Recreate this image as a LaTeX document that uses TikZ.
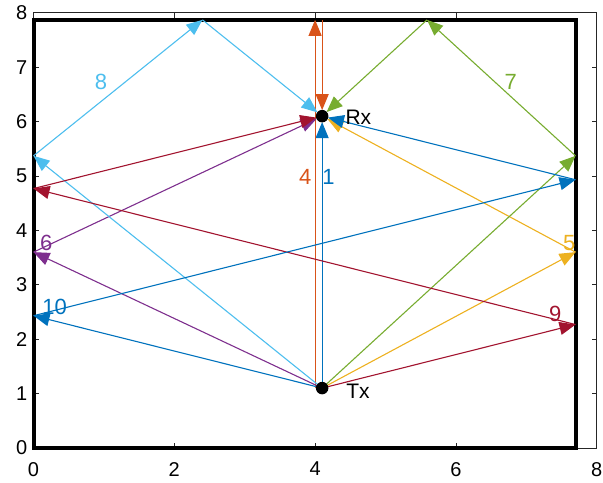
\documentclass[tikz,border=0pt]{standalone}
\usepackage{fontspec}
\setmainfont{Liberation Sans}
\usetikzlibrary{arrows.meta}
\definecolor{cA}{rgb}{0,0.447,0.741}
\definecolor{cB}{rgb}{0.85,0.325,0.098}
\definecolor{cC}{rgb}{0.929,0.694,0.125}
\definecolor{cD}{rgb}{0.494,0.184,0.556}
\definecolor{cE}{rgb}{0.466,0.674,0.188}
\definecolor{cF}{rgb}{0.301,0.745,0.933}
\definecolor{cG}{rgb}{0.635,0.078,0.184}
\definecolor{axgray}{rgb}{0.15,0.15,0.15}
\begin{document}
\begin{tikzpicture}[x=70.4pt,y=54.4pt,
  ray/.style={line width=1.1pt,-{Triangle[length=16pt,width=13pt]}},
  torx/.style={ray,shorten >=6pt},
  dot/.style={circle,fill=black,minimum size=12.5pt,inner sep=0pt},
  lbl/.style={font=\fontsize{22}{22}\selectfont,inner sep=0pt},
  ptlbl/.style={font=\fontsize{21}{21}\selectfont,inner sep=0pt},
  ticklbl/.style={font=\fontsize{20}{20}\selectfont,inner sep=0pt},
  room/.style={line width=4pt,line join=miter},
  axisline/.style={line width=0.7pt,draw=axgray}]
\useasboundingbox (-0.476,-0.643) rectangle (8.09,8.235);
% axes
\draw[axisline] (0,0) rectangle (8,8);
\foreach \k in {0,2,4,6,8}{
  \draw[axisline] (\k,0) -- ++(0,5pt);
  \draw[axisline] (\k,8) -- ++(0,-5pt);
  \node[ticklbl,anchor=north] (xt\k) at ([yshift=-14pt]\k,0) {\k};
}
\foreach \k in {0,...,8}{
  \draw[axisline] (0,\k) -- ++(5pt,0);
  \draw[axisline] (8,\k) -- ++(-5pt,0);
  \node[ticklbl,anchor=east] (yt\k) at ([xshift=-6pt]0,\k) {\k};
}
% room
\draw[room] (0,0) rectangle (7.7,7.87);
% points
\coordinate (Tx) at (4.1,1.1);
\coordinate (Rx) at (4.1,6.1);
\coordinate (TxB) at (4.0,1.1);
\coordinate (T4a) at (4.0,7.87);
\coordinate (T4b) at (4.1,7.87);
\coordinate (L8) at (0,5.37);
\coordinate (T8) at (2.40,7.87);
\coordinate (R7) at (7.7,5.37);
\coordinate (T7) at (5.59,7.87);
\coordinate (L6) at (0,3.6);
\coordinate (R5) at (7.7,3.6);
\coordinate (L10) at (0,2.431);
\coordinate (R10) at (7.7,4.931);
\coordinate (R9) at (7.7,2.269);
\coordinate (L9) at (0,4.769);
% ray 1
\draw[torx,cA] (Tx) -- (Rx);
% ray 4
\draw[ray,cB] (TxB) -- (T4a);
\draw[torx,cB] (T4b) -- (Rx);
% ray 5
\draw[ray,cC] (Tx) -- (R5);
\draw[torx,cC] (R5) -- (Rx);
% ray 6
\draw[ray,cD] (Tx) -- (L6);
\draw[torx,cD] (L6) -- (Rx);
% ray 7
\draw[ray,cE] (Tx) -- (R7);
\draw[ray,cE] (R7) -- (T7);
\draw[torx,cE] (T7) -- (Rx);
% ray 8
\draw[ray,cF] (Tx) -- (L8);
\draw[ray,cF] (L8) -- (T8);
\draw[torx,cF] (T8) -- (Rx);
% ray 9
\draw[ray,cG] (Tx) -- (R9);
\draw[ray,cG] (R9) -- (L9);
\draw[torx,cG] (L9) -- (Rx);
% ray 10
\draw[ray,cA] (Tx) -- (L10);
\draw[ray,cA] (L10) -- (R10);
\draw[torx,cA] (R10) -- (Rx);
% dots
\node[dot] (TxDot) at (Tx) {};
\node[dot] (RxDot) at (Rx) {};
\node[ptlbl,anchor=west] (RxLbl) at (4.43,6.08) {Rx};
\node[ptlbl,anchor=west] (TxLbl) at (4.44,1.05) {Tx};
% ray labels
\node[lbl,text=cA] (n1) at (4.19,4.98) {1};
\node[lbl,text=cB] (n4) at (3.86,4.98) {4};
\node[lbl,text=cC] (n5) at (7.61,3.77) {5};
\node[lbl,text=cD] (n6) at (0.18,3.77) {6};
\node[lbl,text=cE] (n7) at (6.78,6.73) {7};
\node[lbl,text=cF] (n8) at (0.96,6.73) {8};
\node[lbl,text=cG] (n9) at (7.41,2.46) {9};
\node[lbl,text=cA] (n10) at (0.30,2.59) {10};
\end{tikzpicture}
\end{document}
